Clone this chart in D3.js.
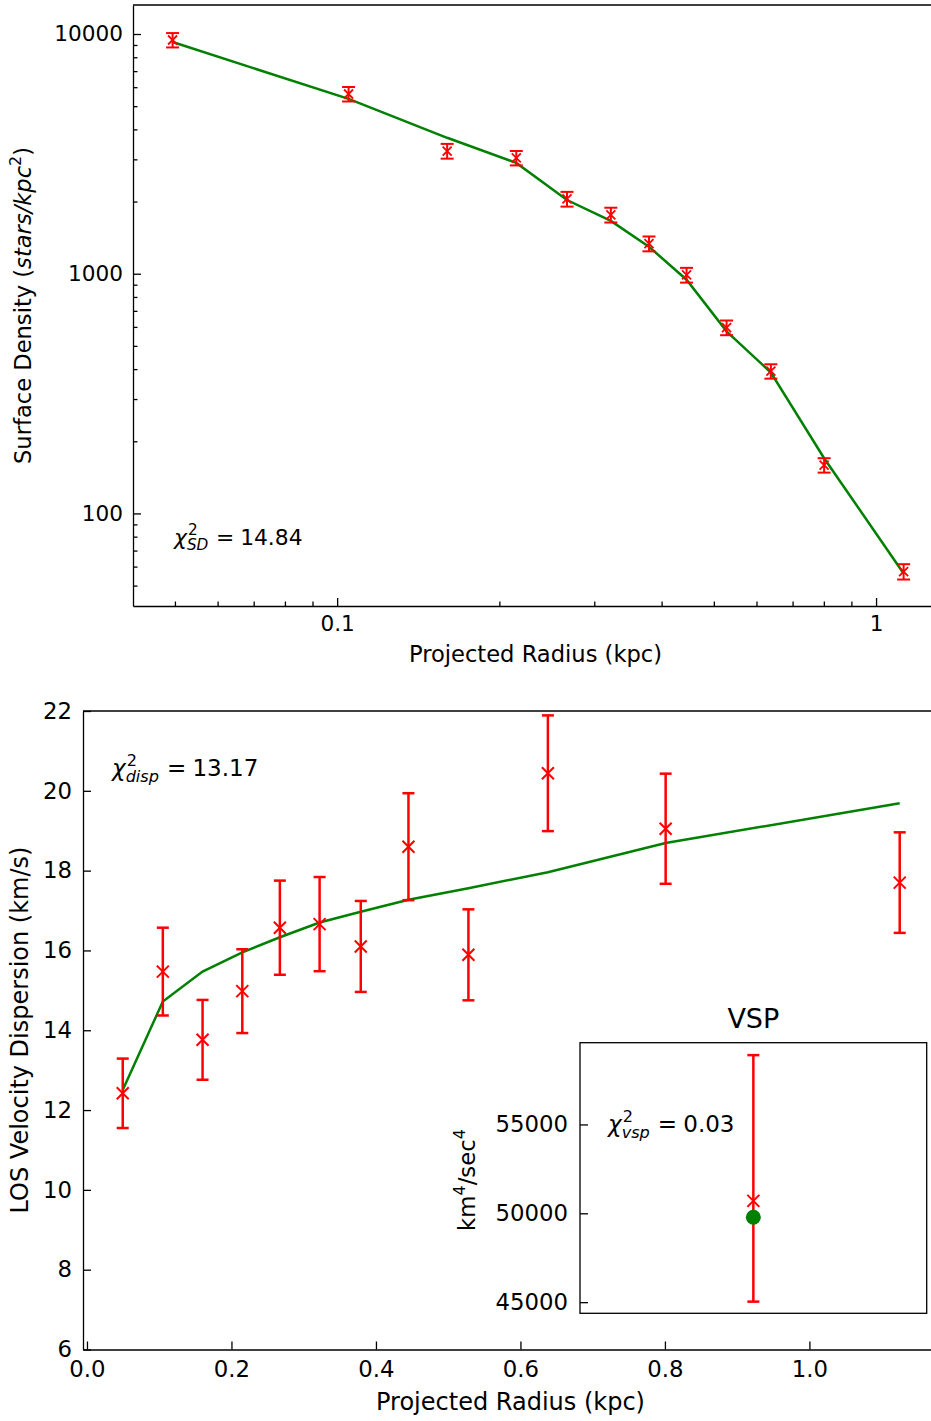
<!DOCTYPE html>
<html>
<head>
<meta charset="utf-8">
<script src="https://cdn.jsdelivr.net/npm/d3@7"></script>
<style>
  body { margin: 0; background: #fff; }
  text { font-family: 'DejaVu Sans', sans-serif; fill: #000; }
</style>
</head>
<body>
<div id="chart"></div>
<script>
// projected radius (kpc), shared by both panels
var radius = [0.0495, 0.105, 0.160, 0.215, 0.267, 0.322, 0.379, 0.445, 0.528, 0.638, 0.801, 1.125];

// surface density (stars/kpc^2)
var sdValue = [9440, 5620, 3250, 3040, 2050, 1760, 1335, 988, 596, 392, 159, 57.2];
var sdError = [650, 390, 230, 210, 145, 125, 95, 70, 42, 27, 11, 4.2];
var sdModel = [9260, 5360, 3690, 2900, 2030, 1660, 1296, 944, 575, 387, 170, 56.2];

// LOS velocity dispersion (km/s)
var dispValue = [12.42, 15.47, 13.76, 14.98, 16.57, 16.66, 16.10, 18.60, 15.89, 20.44, 19.05, 17.70];
var dispError = [0.87, 1.10, 1.00, 1.05, 1.18, 1.18, 1.14, 1.34, 1.14, 1.45, 1.38, 1.26];
var dispModel = [12.50, 14.72, 15.47, 15.95, 16.33, 16.70, 16.97, 17.27, 17.56, 17.96, 18.69, 19.69];

// VSP inset (km^4/sec^4)
var vspValue = 50700;
var vspErrLow = 5670;
var vspErrHigh = 8200;
var vspModel = 49780;

var sdTicks = [100, 1000, 10000];
var rTicksLog = [0.1, 1];
var rTicksLin = [0.0, 0.2, 0.4, 0.6, 0.8, 1.0];
var dispTicks = [6, 8, 10, 12, 14, 16, 18, 20, 22];
var vspTicks = [45000, 50000, 55000];

var W = 931, H = 1421;
var RED = '#ff0000', GREEN = '#008000';

var svg = d3.select('#chart').append('svg').attr('width', W).attr('height', H);
svg.append('rect').attr('width', W).attr('height', H).attr('fill', '#fff');

// math label: chi^2_sub = value, kept in one text element
function chiLabel(g, x, y, sub, value, fs) {
  var t = g.append('text').attr('x', x).attr('y', y).attr('font-size', fs);
  var chi = t.append('tspan').attr('font-style', 'italic').text('χ');
  var sx = x + chi.node().getComputedTextLength() + 0.05 * fs;
  var sup = t.append('tspan').attr('x', sx).attr('y', y - 0.45 * fs).attr('font-size', fs * 0.7).text('2');
  var sb = t.append('tspan').attr('x', sx - 0.05 * fs).attr('y', y + 0.24 * fs).attr('font-size', fs * 0.7).attr('font-style', 'italic').text(sub);
  var end = Math.max(sx + sup.node().getComputedTextLength(), sx - 0.05 * fs + sb.node().getComputedTextLength());
  var eq = t.append('tspan').attr('x', end + 0.35 * fs).attr('y', y).text('=');
  t.append('tspan').attr('x', end + 0.35 * fs + eq.node().getComputedTextLength() + 0.27 * fs).attr('y', y).text(value);
}

function errorBars(g, xs, ys, data, cap, width) {
  var eb = g.selectAll(null).data(data).enter().append('g').attr('stroke', RED).attr('stroke-width', width).attr('fill', 'none');
  eb.append('line').attr('x1', function(d) { return xs(d.x); }).attr('x2', function(d) { return xs(d.x); })
    .attr('y1', function(d) { return ys(d.lo); }).attr('y2', function(d) { return ys(d.hi); });
  eb.append('line').attr('x1', function(d) { return xs(d.x) - cap; }).attr('x2', function(d) { return xs(d.x) + cap; })
    .attr('y1', function(d) { return ys(d.lo); }).attr('y2', function(d) { return ys(d.lo); });
  eb.append('line').attr('x1', function(d) { return xs(d.x) - cap; }).attr('x2', function(d) { return xs(d.x) + cap; })
    .attr('y1', function(d) { return ys(d.hi); }).attr('y2', function(d) { return ys(d.hi); });
}

function xMarkers(g, xs, ys, data, s, width) {
  g.selectAll(null).data(data).enter().append('path')
    .attr('d', function(d) {
      var cx = xs(d.x), cy = ys(d.y);
      return 'M' + (cx - s) + ',' + (cy - s) + 'L' + (cx + s) + ',' + (cy + s) +
             'M' + (cx - s) + ',' + (cy + s) + 'L' + (cx + s) + ',' + (cy - s);
    })
    .attr('stroke', RED).attr('stroke-width', width).attr('fill', 'none');
}

// ---------------- top panel: surface density ----------------
(function() {
  var fs = 21.6, lfs = 22.6;
  var x = d3.scaleLog().domain([0.0418, 1.303]).range([133, 938]);
  var y = d3.scaleLog().domain([41.1, 13213]).range([606, 5]);
  var g = svg.append('g');

  var pts = radius.map(function(r, i) {
    return { x: r, y: sdValue[i], lo: sdValue[i] - sdError[i], hi: sdValue[i] + sdError[i] };
  });

  g.append('path').datum(radius.map(function(r, i) { return [r, sdModel[i]]; }))
    .attr('d', d3.line().x(function(d) { return x(d[0]); }).y(function(d) { return y(d[1]); }))
    .attr('fill', 'none').attr('stroke', GREEN).attr('stroke-width', 2.5);

  errorBars(g, x, y, pts, 6.5, 2);
  xMarkers(g, x, y, pts, 4.5, 1.8);

  // axes
  var xMinor = [], yMinor = [];
  [0.01, 0.1, 1].forEach(function(b) { for (var k = 2; k < 10; k++) { var v = b * k; if (v > 0.0418 && v < 1.303) xMinor.push(v); } });
  [10, 100, 1000, 10000].forEach(function(b) { for (var k = 2; k < 10; k++) { var v = b * k; if (v > 41.1 && v < 13213) yMinor.push(v); } });

  g.append('g').attr('transform', 'translate(0,606)')
    .call(d3.axisBottom(x).tickValues(rTicksLog).tickFormat(d3.format('~g')).tickSizeInner(-8).tickSizeOuter(0).tickPadding(10));
  g.append('g').attr('transform', 'translate(0,606)')
    .call(d3.axisBottom(x).tickValues(xMinor).tickFormat('').tickSizeInner(-4.5).tickSizeOuter(0))
    .select('.domain').remove();
  g.append('g').attr('transform', 'translate(133,0)')
    .call(d3.axisLeft(y).tickValues(sdTicks).tickFormat(d3.format('d')).tickSizeInner(-8).tickSizeOuter(0).tickPadding(10));
  g.append('g').attr('transform', 'translate(133,0)')
    .call(d3.axisLeft(y).tickValues(yMinor).tickFormat('').tickSizeInner(-4.5).tickSizeOuter(0))
    .select('.domain').remove();
  g.selectAll('.tick text').attr('font-size', fs).attr('font-family', 'DejaVu Sans');
  g.selectAll('.domain, .tick line').attr('stroke', '#000').attr('stroke-width', 1.3);
  g.append('line').attr('x1', 133).attr('x2', 938).attr('y1', 5).attr('y2', 5).attr('stroke', '#000').attr('stroke-width', 1.3);

  g.append('text').attr('x', 535.5).attr('y', 662).attr('text-anchor', 'middle').attr('font-size', lfs).text('Projected Radius (kpc)');
  var yl = g.append('text').attr('transform', 'translate(31,305.5) rotate(-90)').attr('text-anchor', 'middle').attr('font-size', lfs);
  yl.append('tspan').text('Surface Density (');
  yl.append('tspan').attr('font-style', 'italic').text('stars/kpc');
  yl.append('tspan').attr('font-size', lfs * 0.7).attr('dy', -0.45 * lfs).text('2');
  yl.append('tspan').attr('dy', 0.45 * lfs).text(')');

  chiLabel(g, 174, 545, 'SD', '14.84', 21.8);
})();

// ---------------- bottom panel: velocity dispersion ----------------
(function() {
  var fs = 22.8, lfs = 24;
  var x = d3.scaleLinear().domain([-0.0055, 1.178]).range([83, 938]);
  var y = d3.scaleLinear().domain([6, 22]).range([1349.5, 711]);
  var g = svg.append('g');

  var pts = radius.map(function(r, i) {
    return { x: r, y: dispValue[i], lo: dispValue[i] - dispError[i], hi: dispValue[i] + dispError[i] };
  });

  g.append('path').datum(radius.map(function(r, i) { return [r, dispModel[i]]; }))
    .attr('d', d3.line().x(function(d) { return x(d[0]); }).y(function(d) { return y(d[1]); }))
    .attr('fill', 'none').attr('stroke', GREEN).attr('stroke-width', 2.5);

  errorBars(g, x, y, pts, 6, 2.5);
  xMarkers(g, x, y, pts, 6, 2);

  g.append('g').attr('transform', 'translate(0,1349.5)')
    .call(d3.axisBottom(x).tickValues(rTicksLin).tickFormat(d3.format('.1f')).tickSizeInner(-8).tickSizeOuter(0).tickPadding(11));
  g.append('g').attr('transform', 'translate(83,0)')
    .call(d3.axisLeft(y).tickValues(dispTicks).tickFormat(d3.format('d')).tickSizeInner(-8).tickSizeOuter(0).tickPadding(11));
  g.selectAll('.tick text').attr('font-size', fs).attr('font-family', 'DejaVu Sans');
  g.selectAll('.domain, .tick line').attr('stroke', '#000').attr('stroke-width', 1.3);
  g.append('line').attr('x1', 83).attr('x2', 938).attr('y1', 711).attr('y2', 711).attr('stroke', '#000').attr('stroke-width', 1.3);

  g.append('text').attr('x', 510.5).attr('y', 1410).attr('text-anchor', 'middle').attr('font-size', lfs).text('Projected Radius (kpc)');
  g.append('text').attr('transform', 'translate(28,1030) rotate(-90)').attr('text-anchor', 'middle').attr('font-size', lfs).text('LOS Velocity Dispersion (km/s)');

  chiLabel(g, 112, 776, 'disp', '13.17', 23);
})();

// ---------------- inset: VSP ----------------
(function() {
  var fs = 22.8;
  var x0 = 580, x1 = 926.7, y0 = 1042.7, y1 = 1313.3;
  var x = d3.scaleLinear().domain([0, 2]).range([x0, x1]);
  var y = d3.scaleLinear().domain([44373, 59600]).range([y1, y0]);
  var g = svg.append('g');

  g.append('rect').attr('x', x0).attr('y', y0).attr('width', x1 - x0).attr('height', y1 - y0)
    .attr('fill', '#fff').attr('stroke', '#000').attr('stroke-width', 1.3);

  var pts = [{ x: 1, y: vspValue, lo: vspValue - vspErrLow, hi: vspValue + vspErrHigh }];
  errorBars(g, x, y, pts, 6, 2.5);
  xMarkers(g, x, y, pts, 6, 2);
  g.append('circle').attr('cx', x(1)).attr('cy', y(vspModel)).attr('r', 7.5).attr('fill', GREEN);

  var ya = g.append('g').attr('transform', 'translate(' + x0 + ',0)')
    .call(d3.axisLeft(y).tickValues(vspTicks).tickFormat(d3.format('d')).tickSizeInner(-8).tickSizeOuter(0).tickPadding(12));
  ya.select('.domain').remove();
  ya.selectAll('.tick text').attr('font-size', fs).attr('font-family', 'DejaVu Sans');
  ya.selectAll('.tick line').attr('stroke', '#000').attr('stroke-width', 1.3);

  g.append('text').attr('x', (x0 + x1) / 2).attr('y', 1028).attr('text-anchor', 'middle').attr('font-size', 27).text('VSP');
  var yl = g.append('text').attr('transform', 'translate(475,1180) rotate(-90)').attr('text-anchor', 'middle').attr('font-size', fs);
  yl.append('tspan').text('km');
  yl.append('tspan').attr('font-size', fs * 0.7).attr('dy', -0.45 * fs).text('4');
  yl.append('tspan').attr('dy', 0.45 * fs).text('/sec');
  yl.append('tspan').attr('font-size', fs * 0.7).attr('dy', -0.45 * fs).text('4');

  chiLabel(g, 608, 1132, 'vsp', '0.03', 23);
})();
</script>
</body>
</html>
